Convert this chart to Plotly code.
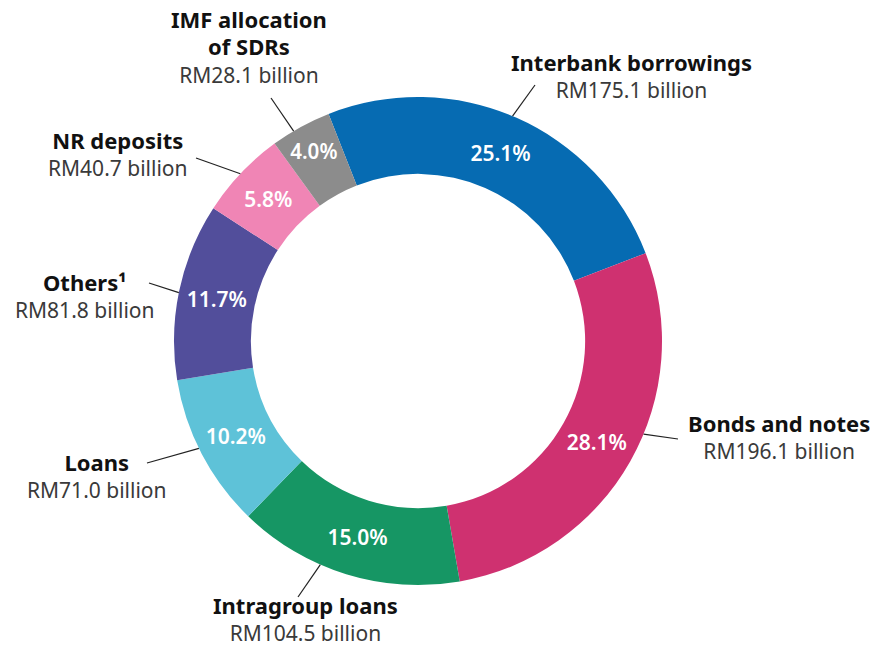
import math
import plotly.graph_objects as go

# Funding composition (RM billion), in clockwise order starting from Interbank borrowings
categories = ["Interbank borrowings", "Bonds and notes", "Intragroup loans", "Loans",
              "Others¹", "NR deposits", "IMF allocation<br>of SDRs"]
values = [175.1, 196.1, 104.5, 71.0, 81.8, 40.7, 28.1]
value_labels = ["RM175.1 billion", "RM196.1 billion", "RM104.5 billion", "RM71.0 billion",
                "RM81.8 billion", "RM40.7 billion", "RM28.1 billion"]
colors = ["#066BB2", "#CF3170", "#169664", "#5EC2D8", "#524E9B", "#F085B5", "#8C8C8C"]

W, H = 874, 648
CX, CY, R_OUT = 418, 341, 244
HOLE = 0.685
ROTATION = -21.5

# label layout: centre of each label block, leader end point,
# and where along its slice the leader line touches the ring
label_pos = [(631, 76), (779, 436), (305, 618), (97, 475),
             (85, 295), (118, 153), (249, 47)]
leader_end = [(535, 85), (678, 439), (298, 597), (147, 463),
              (149, 283), (196, 158), (271, 98)]
leader_frac = [0.49, 0.43, 0.62, 0.54, 0.49, 0.49, 0.37]

FONT = "Noto Sans"

fig = go.Figure(go.Pie(
    labels=categories,
    values=values,
    sort=False,
    direction="clockwise",
    rotation=ROTATION,
    hole=HOLE,
    marker=dict(colors=colors, line=dict(width=0)),
    texttemplate="%{percent:.1%}",
    textposition="inside",
    insidetextorientation="horizontal",
    textfont=dict(family=FONT, size=21, color="white", weight=600),
    showlegend=False,
    domain=dict(x=[(CX - R_OUT) / W, (CX + R_OUT) / W],
                y=[(H - CY - R_OUT) / H, (H - CY + R_OUT) / H]),
))


def px(x, y):
    return x / W, 1 - y / H


total = sum(values)
start = ROTATION
annotations = []
shapes = []
for i, v in enumerate(values):
    span = 360 * v / total
    ang = math.radians(start + span * leader_frac[i])
    start += span
    x0 = CX + R_OUT * math.sin(ang)
    y0 = CY - R_OUT * math.cos(ang)
    x1, y1 = leader_end[i]
    a0, b0 = px(x0, y0)
    a1, b1 = px(x1, y1)
    shapes.append(dict(type="line", xref="paper", yref="paper", x0=a0, y0=b0, x1=a1, y1=b1,
                       line=dict(color="#222222", width=1.2)))

    title = "<br>".join(
        f"<b><span style='color:#111111;font-size:22px'>{part}</span></b>"
        for part in categories[i].split("<br>"))
    ax, ay = px(*label_pos[i])
    annotations.append(dict(x=ax, y=ay, xref="paper", yref="paper",
                            text=f"{title}<br>{value_labels[i]}",
                            showarrow=False, xanchor="center", yanchor="middle",
                            align="center",
                            font=dict(family=FONT, size=21, color="#3a3a3a")))

fig.update_layout(
    width=W, height=H,
    margin=dict(l=0, r=0, t=0, b=0),
    paper_bgcolor="white",
    plot_bgcolor="white",
    annotations=annotations,
    shapes=shapes,
)

fig.write_html("out.html")
